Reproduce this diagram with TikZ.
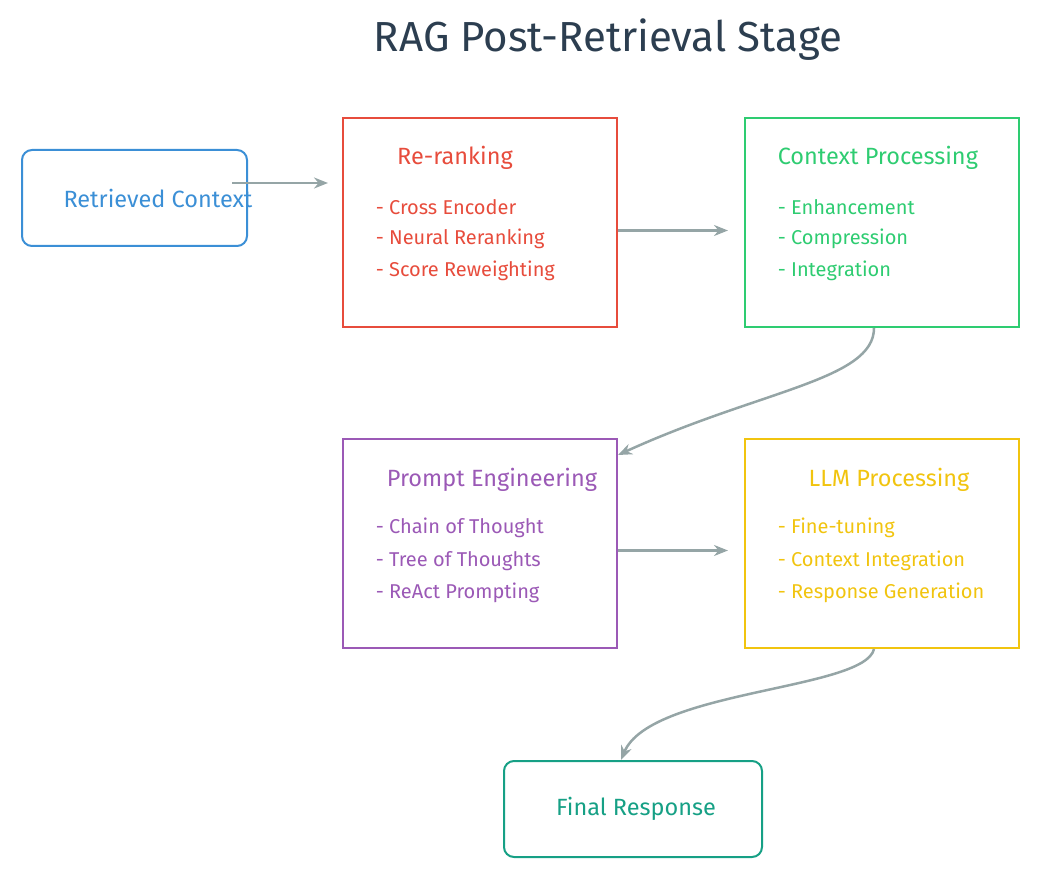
\documentclass[tikz,border=0pt]{standalone}
\usepackage{fontspec}
\setmainfont{Fira Sans}
\usetikzlibrary{positioning,arrows.meta}
\definecolor{cBlue}{HTML}{3B8FD6}
\definecolor{cRed}{HTML}{E74C3C}
\definecolor{cGreen}{HTML}{2ECC71}
\definecolor{cPurple}{HTML}{9B59B6}
\definecolor{cYellow}{HTML}{F1C40F}
\definecolor{cTeal}{HTML}{16A085}
\definecolor{cGrey}{HTML}{95A5A6}
\definecolor{cDark}{HTML}{2C3E50}
\tikzset{every picture/.style={line width=1.5pt}}
\tikzset{
  stage/.style={draw, minimum width=274pt, minimum height=209pt, line width=2pt},
  endbox/.style={draw, rounded corners=10pt, line width=2pt},
  lbl/.style={anchor=west, inner sep=0pt, font=\fontsize{20}{24}\selectfont},
  hdr/.style={inner sep=0pt, font=\fontsize{23.5}{28}\selectfont},
  flow/.style={draw=cGrey, line width=2.5pt, -{Stealth[length=14pt,width=11pt]}}
}

\begin{document}
\begin{tikzpicture}[x=1pt,y=-1pt]
\useasboundingbox (0,0) rectangle (1040,882);

\node[text=cDark, font=\fontsize{42}{50}\selectfont] (title) at (608,40) {RAG Post-Retrieval Stage};

% input and output
\node[endbox, draw=cBlue, minimum width=225pt, minimum height=96pt] (ctx) at (134.5,198) {};
\node[text=cBlue, hdr] at (158,198) {Retrieved Context};
\node[endbox, draw=cTeal, minimum width=258pt, minimum height=96pt] (final) at (633,809) {};
\node[text=cTeal, hdr] at (636,809) {Final Response};

% stages
\node[stage, draw=cRed] (rerank) at (480,222.5) {};
\node[hdr, text=cRed] at (455,158) {Re-ranking};
\node[lbl, text=cRed] at (375,207) {- Cross Encoder};
\node[lbl, text=cRed] at (375,239) {- Neural Reranking};
\node[lbl, text=cRed] at (375,271) {- Score Reweighting};

\node[stage, draw=cGreen] (process) at (882,222.5) {};
\node[hdr, text=cGreen, anchor=west] at (777,158) {Context Processing};
\node[lbl, text=cGreen] at (777,207) {- Enhancement};
\node[lbl, text=cGreen] at (777,239) {- Compression};
\node[lbl, text=cGreen] at (777,271) {- Integration};

\node[stage, draw=cPurple] (prompt) at (480,543.5) {};
\node[hdr, text=cPurple] at (492,480) {Prompt Engineering};
\node[lbl, text=cPurple] at (375,528) {- Chain of Thought};
\node[lbl, text=cPurple] at (375,561) {- Tree of Thoughts};
\node[lbl, text=cPurple] at (375,593) {- ReAct Prompting};

\node[stage, draw=cYellow] (llm) at (882,543.5) {};
\node[hdr, text=cYellow] at (889,480) {LLM Processing};
\node[lbl, text=cYellow] at (777,528) {- Fine-tuning};
\node[lbl, text=cYellow] at (777,561) {- Context Integration};
\node[lbl, text=cYellow] at (777,593) {- Response Generation};

% connectors
\coordinate (ctxout) at (232,183);
\draw[flow] (ctxout) -- (328,183);
\draw[flow] ([yshift=-8pt]rerank.east) -- ([xshift=-16pt,yshift=-8pt]process.west);
\draw[flow] ([xshift=-8pt]process.south) .. controls (874,380) and (760,390) .. ([yshift=-17pt]prompt.north east);
\draw[flow] ([yshift=-7pt]prompt.east) -- ([xshift=-16pt,yshift=-7pt]llm.west);
\draw[flow] ([xshift=-8pt]llm.south) .. controls (865,690) and (650,690) .. ([xshift=-12pt]final.north);
\end{tikzpicture}
\end{document}
